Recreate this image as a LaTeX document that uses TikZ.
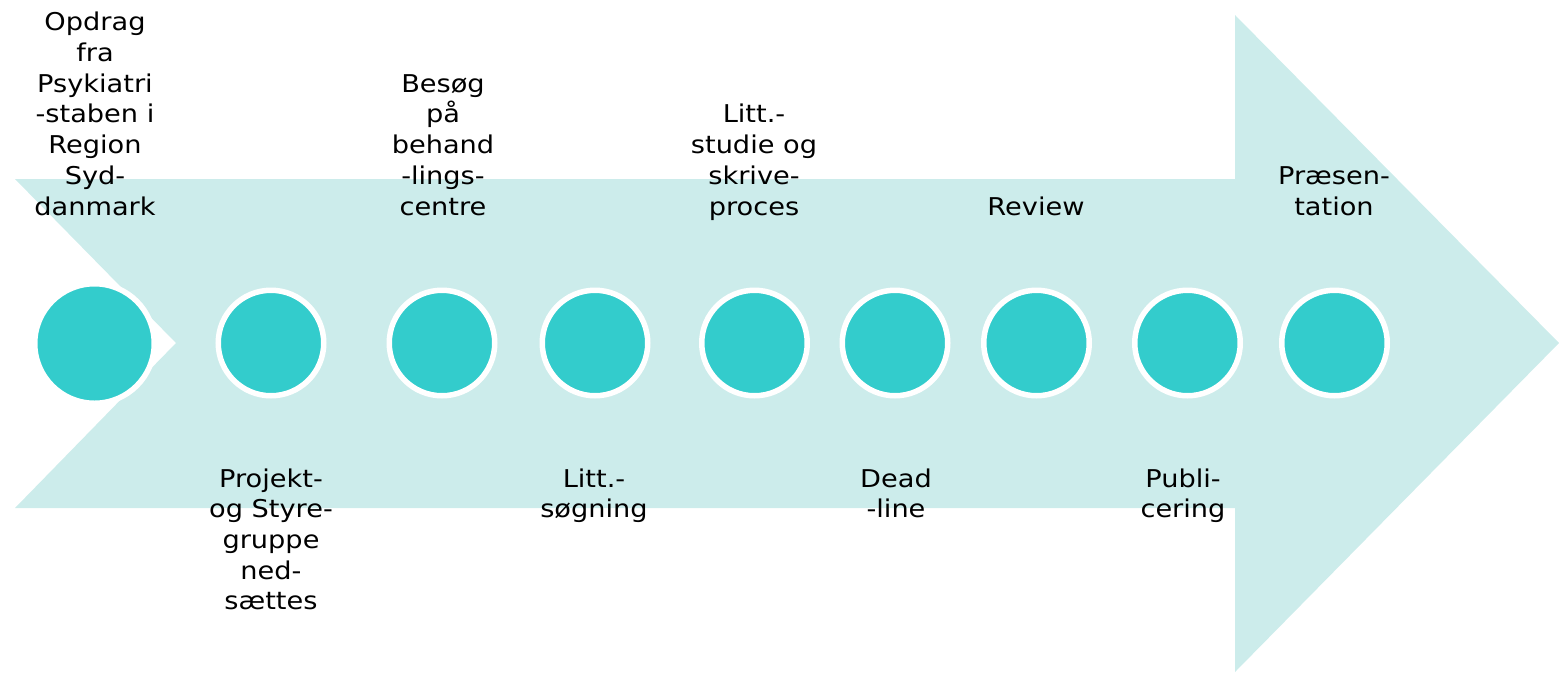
\documentclass[tikz,border=0pt]{standalone}
\usepackage{fontspec}
\newfontfamily\lblfont[FakeStretch=1.11]{DejaVu Sans}
\definecolor{arrowbg}{RGB}{204,236,235}
\definecolor{dotcol}{RGB}{51,204,204}
\begin{document}
\begin{tikzpicture}[x=1pt,y=-1pt,
  dotc/.style={circle, fill=dotcol, draw=white, line width=5.5pt, minimum size=105.5pt, inner sep=0pt},
  lbl/.style={font=\lblfont\fontsize{24.5pt}{30.7pt}\selectfont, inner sep=0pt, anchor=base, text=black}]
\useasboundingbox (0,0) rectangle (1559,673);
\fill[arrowbg] (15,179) -- (1235,179) -- (1235,15) -- (1559,343) -- (1235,672) -- (1235,508) -- (15,508) -- (176,343) -- cycle;
\node[dotc, minimum size=119.5pt] (c1) at (94.5,343.5) {};
\node[dotc] (c2) at (271,343) {};
\node[dotc] (c3) at (442,343) {};
\node[dotc] (c4) at (595,343) {};
\node[dotc] (c5) at (754.5,343) {};
\node[dotc] (c6) at (895,343) {};
\node[dotc] (c7) at (1036.5,343) {};
\node[dotc] (c8) at (1187.5,343) {};
\node[dotc] (c9) at (1334.5,343) {};
\node[lbl] (t1) at (95,215) {\begin{tabular}[b]{@{}c@{}}Opdrag\\fra\\Psykiatri\\-staben i\\Region\\Syd-\\danmark\end{tabular}};
\node[lbl] (t2) at (271,487) {\begin{tabular}[t]{@{}c@{}}Projekt-\\og Styre-\\gruppe\\ned-\\sættes\end{tabular}};
\node[lbl] (t3) at (443,215) {\begin{tabular}[b]{@{}c@{}}Besøg\\på\\behand\\-lings-\\centre\end{tabular}};
\node[lbl] (t4) at (594,487) {\begin{tabular}[t]{@{}c@{}}Litt.-\\søgning\end{tabular}};
\node[lbl] (t5) at (754,215) {\begin{tabular}[b]{@{}c@{}}Litt.-\\studie og\\skrive-\\proces\end{tabular}};
\node[lbl] (t6) at (896,487) {\begin{tabular}[t]{@{}c@{}}Dead\\-line\end{tabular}};
\node[lbl] (t7) at (1036,215) {Review};
\node[lbl] (t8) at (1183,487) {\begin{tabular}[t]{@{}c@{}}Publi-\\cering\end{tabular}};
\node[lbl] (t9) at (1334,215) {\begin{tabular}[b]{@{}c@{}}Præsen-\\tation\end{tabular}};
\end{tikzpicture}
\end{document}
